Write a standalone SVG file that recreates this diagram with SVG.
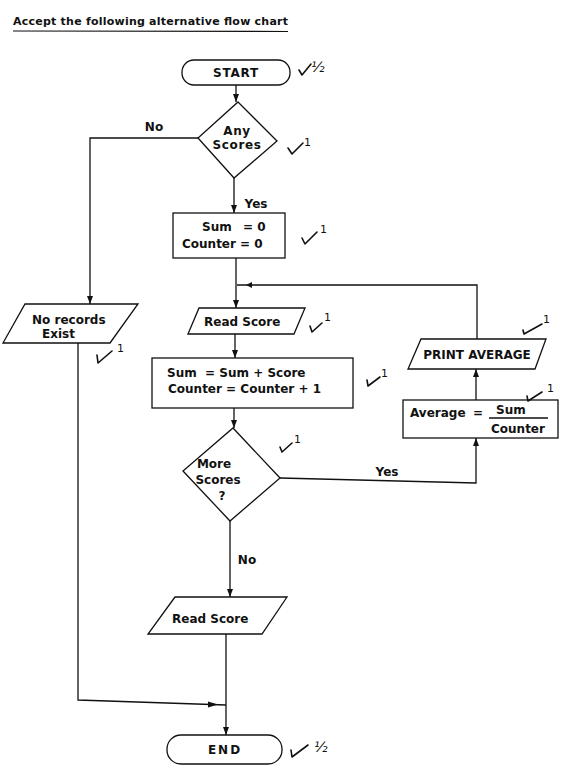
<svg xmlns="http://www.w3.org/2000/svg" width="572" height="770" viewBox="0 0 572 770">
<style>
  .shape { fill: #fff; stroke: #111; stroke-width: 1.3; }
  .conn { fill: none; stroke: #111; stroke-width: 1.3; }
  .tick { fill: none; stroke: #111; stroke-width: 1.6; stroke-linecap: round; stroke-linejoin: round; }
  .t { font-family: "DejaVu Sans", "Liberation Sans", sans-serif; font-weight: bold; fill: #111; }
  .lbl { font-size: 12px; }
  .mark { font-family: "DejaVu Sans", sans-serif; font-size: 11px; fill: #111; }
  .half { font-family: "DejaVu Sans", sans-serif; font-size: 14px; font-style: italic; fill: #111; }
</style>
<defs>
  <marker id="arr" viewBox="0 0 8 6" refX="8" refY="3" markerWidth="8" markerHeight="6" markerUnits="userSpaceOnUse" orient="auto">
    <path d="M0,0 L8,3 L0,6 z" fill="#111"/>
  </marker>
</defs>
<rect width="572" height="770" fill="#fff"/>

<g id="title">
  <text class="t" x="13" y="25" font-size="11" textLength="275" lengthAdjust="spacing">Accept the following alternative flow chart</text>
  <line x1="13" y1="31" x2="288" y2="31.5" stroke="#111" stroke-width="1.2"/>
</g>

<g id="connectors">
  <path class="conn" d="M236 85 V102" marker-end="url(#arr)"/>
  <path class="conn" d="M198 138 H90 V304" marker-end="url(#arr)"/>
  <path class="conn" d="M234 178 V213" marker-end="url(#arr)"/>
  <path class="conn" d="M236 258 V308" marker-end="url(#arr)"/>
  <path class="conn" d="M477 339 V285 H237"/>
  <path d="M252 282 L246 285 L252 288 Z" fill="#111"/>
  <path class="conn" d="M235 334 V358" marker-end="url(#arr)"/>
  <path class="conn" d="M234 408 V428" marker-end="url(#arr)"/>
  <path class="conn" d="M280 478 L476 483 V438" marker-end="url(#arr)"/>
  <path class="conn" d="M476 400 V369" marker-end="url(#arr)"/>
  <path class="conn" d="M230 521 V597" marker-end="url(#arr)"/>
  <path class="conn" d="M226 634 V735" marker-end="url(#arr)"/>
  <path class="conn" d="M78 343 V700 L226 705"/>
  <path d="M208 701.5 L218 704.5 L208 707.5 Z" fill="#111"/>
  <text class="t lbl" x="154" y="131" text-anchor="middle">No</text>
  <text class="t lbl" x="256" y="208" text-anchor="middle">Yes</text>
  <text class="t lbl" x="387" y="476" text-anchor="middle">Yes</text>
  <text class="t lbl" x="247" y="564" text-anchor="middle">No</text>
</g>

<g id="start">
  <rect class="shape" x="182" y="60" width="108" height="25" rx="12"/>
  <text class="t" x="236" y="77" font-size="12" text-anchor="middle" letter-spacing="0.8">START</text>
  <path class="tick" d="M299 70 L302 75 L311 64"/>
  <text class="half" x="311" y="72">½</text>
</g>

<g id="any-scores">
  <polygon class="shape" points="238,102 277,141 234,178 198,138"/>
  <text class="t" x="237" y="135" font-size="12" text-anchor="middle" letter-spacing="0.6">Any</text>
  <text class="t" x="237" y="149" font-size="12" text-anchor="middle" letter-spacing="0.6">Scores</text>
  <path class="tick" d="M288 148 L292 154 L303 143"/>
  <text class="mark" x="304" y="146">1</text>
</g>

<g id="init">
  <rect class="shape" x="173" y="213" width="112" height="45"/>
  <text class="t lbl" x="202" y="231">Sum</text>
  <text class="t lbl" x="243" y="231">= 0</text>
  <text class="t lbl" x="182" y="248">Counter = 0</text>
  <path class="tick" d="M302 238 L305 244 L317 232"/>
  <text class="mark" x="320" y="233">1</text>
</g>

<g id="read-score-1">
  <polygon class="shape" points="199,308 305,308 294,334 188,334"/>
  <text class="t lbl" x="204" y="326">Read Score</text>
  <path class="tick" d="M310 326 L312 332 L322 323"/>
  <text class="mark" x="324" y="321">1</text>
</g>

<g id="no-records">
  <polygon class="shape" points="25,304 138,304 110,343 3,343"/>
  <text class="t lbl" x="32" y="324">No records</text>
  <text class="t lbl" x="42" y="338">Exist</text>
  <path class="tick" d="M97 355 L98 363 L112 351"/>
  <text class="mark" x="117" y="352">1</text>
</g>

<g id="accumulate">
  <rect class="shape" x="152" y="358" width="201" height="50"/>
  <text class="t lbl" x="167" y="377" xml:space="preserve">Sum  = Sum + Score</text>
  <text class="t lbl" x="168" y="393">Counter = Counter + 1</text>
  <path class="tick" d="M367 380 L368 386 L380 377"/>
  <text class="mark" x="381" y="377">1</text>
</g>

<g id="more-scores">
  <polygon class="shape" points="233,428 280,478 230,521 183,471"/>
  <text class="t lbl" x="214" y="468" text-anchor="middle">More</text>
  <text class="t lbl" x="218" y="484" text-anchor="middle">Scores</text>
  <text class="t lbl" x="222" y="500" text-anchor="middle">?</text>
  <path class="tick" d="M280 447 L282 452 L292 443"/>
  <text class="mark" x="294" y="443">1</text>
</g>

<g id="average">
  <rect class="shape" x="403" y="400" width="155" height="38"/>
  <text class="t lbl" x="410" y="417">Average</text>
  <text class="t lbl" x="473" y="417">=</text>
  <text class="t lbl" x="496" y="414">Sum</text>
  <line x1="489" y1="418" x2="548" y2="418" stroke="#111" stroke-width="1.3"/>
  <text class="t lbl" x="491" y="433">Counter</text>
  <path class="tick" d="M527 396 L528 401 L542 392"/>
  <text class="mark" x="547" y="392">1</text>
</g>

<g id="print-average">
  <polygon class="shape" points="421,339 546,339 535,369 408,369"/>
  <text class="t lbl" x="477" y="359" text-anchor="middle">PRINT AVERAGE</text>
  <path class="tick" d="M523 330 L524 334 L542 324"/>
  <text class="mark" x="543" y="323">1</text>
</g>

<g id="read-score-2">
  <polygon class="shape" points="175,597 287,597 262,634 148,634"/>
  <text class="t lbl" x="172" y="623">Read Score</text>
</g>

<g id="end">
  <rect class="shape" x="167" y="735" width="115" height="29" rx="14"/>
  <text class="t" x="225" y="754" font-size="12" text-anchor="middle" letter-spacing="2">END</text>
  <path class="tick" d="M291 750 L292 757 L308 745"/>
  <text class="half" x="314" y="752">½</text>
</g>
</svg>
